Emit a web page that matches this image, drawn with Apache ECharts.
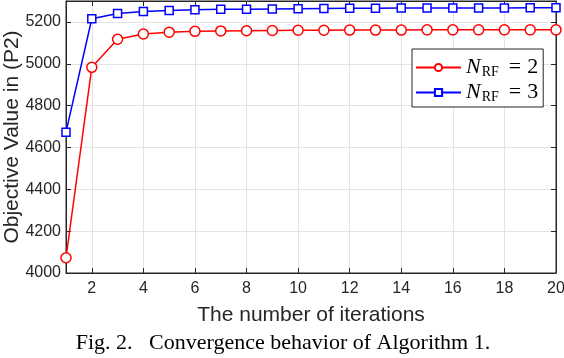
<!DOCTYPE html>
<html>
<head>
<meta charset="utf-8">
<script src="https://cdn.jsdelivr.net/npm/echarts@6/dist/echarts.min.js"></script>
<style>
  body { margin: 0; background: #fff; }
  #chart { width: 564px; height: 358px; }
</style>
</head>
<body>
<div id="chart"></div>
<script>
// iterations on the x axis
const iterations = [1, 2, 3, 4, 5, 6, 7, 8, 9, 10, 11, 12, 13, 14, 15, 16, 17, 18, 19, 20];
// objective value, N_RF = 2
const nrf2 = [4073, 4983, 5117, 5142, 5151, 5155, 5157, 5158, 5159, 5160, 5160, 5161, 5161, 5161, 5162, 5162, 5162, 5162, 5162, 5162];
// objective value, N_RF = 3
const nrf3 = [4673, 5215, 5240, 5250, 5255, 5258, 5260, 5261, 5262, 5263, 5264, 5265, 5265, 5266, 5266, 5267, 5267, 5267, 5268, 5268];
const seriesNames = ['2', '3'];

const axisColor = '#262626';
const gridColor = '#e3e3e3';
const font = 'Liberation Sans';

const chart = echarts.init(document.getElementById('chart'));

// only every second iteration gets a tick / label / grid line
const evenIdx = (i) => i % 2 === 1;

chart.setOption({
  animation: false,
  grid: {
    left: 66, right: 8, top: 1, bottom: 85,
    outerBoundsMode: 'none',
    show: true, borderColor: axisColor, borderWidth: 1
  },
  graphic: [
    {
      type: 'text', x: 283, y: 343,
      style: {
        text: 'Fig. 2.   Convergence behavior of Algorithm 1.',
        font: '22px "Liberation Serif"', fill: '#000',
        align: 'center', verticalAlign: 'middle'
      }
    }
  ],
  legend: {
    orient: 'vertical',
    left: 412, top: 49,
    padding: [7, 5, 3, 3],
    itemGap: 2,
    itemWidth: 45, itemHeight: 9,
    backgroundColor: '#fff',
    borderColor: axisColor, borderWidth: 1, borderRadius: 0,
    formatter: (name) => '{n|N}{s|RF}{e|=}{t|' + name + '}',
    textStyle: {
      rich: {
        n: { fontFamily: 'Liberation Serif', fontStyle: 'italic', fontSize: 22, color: '#000', lineHeight: 23 },
        s: { fontFamily: 'Liberation Serif', fontSize: 14, color: '#000', lineHeight: 23, padding: [9, 0, 0, 1] },
        e: { fontFamily: 'Liberation Serif', fontSize: 22, color: '#000', lineHeight: 23, padding: [0, 6, 0, 10] },
        t: { fontFamily: 'Liberation Serif', fontSize: 22, color: '#000', lineHeight: 23 }
      }
    },
    data: seriesNames
  },
  xAxis: [
    {
      type: 'category', data: iterations, boundaryGap: false,
      name: 'The number of iterations', nameLocation: 'middle', nameGap: 32,
      nameTextStyle: { fontFamily: font, fontSize: 21, color: axisColor },
      axisLine: { lineStyle: { color: axisColor } },
      axisTick: { inside: true, length: 5, interval: evenIdx, lineStyle: { color: axisColor } },
      axisLabel: { interval: evenIdx, fontFamily: font, fontSize: 16, color: axisColor, margin: 8 },
      splitLine: { show: true, interval: evenIdx, lineStyle: { color: gridColor } }
    },
    {
      type: 'category', data: iterations, boundaryGap: false, position: 'top',
      axisLine: { lineStyle: { color: axisColor } },
      axisTick: { inside: true, length: 5, interval: evenIdx, lineStyle: { color: axisColor } },
      axisLabel: { show: false }, splitLine: { show: false }
    }
  ],
  yAxis: [
    {
      type: 'value', min: 4000, max: 5300, interval: 200,
      name: 'Objective Value in (P2)', nameLocation: 'middle', nameGap: 43,
      nameMoveOverlap: false,
      nameTextStyle: { fontFamily: font, fontSize: 21, color: axisColor },
      axisLine: { show: true, lineStyle: { color: axisColor } },
      axisTick: { show: true, inside: true, length: 5, lineStyle: { color: axisColor } },
      axisLabel: {
        fontFamily: font, fontSize: 16, color: axisColor, margin: 5,
        showMaxLabel: false, formatter: (v) => String(v)
      },
      splitLine: { show: true, lineStyle: { color: gridColor } }
    },
    {
      type: 'value', min: 4000, max: 5300, interval: 200, position: 'right',
      axisLine: { show: true, lineStyle: { color: axisColor } },
      axisTick: { show: true, inside: true, length: 5, lineStyle: { color: axisColor } },
      axisLabel: { show: false }, splitLine: { show: false }
    }
  ],
  series: [
    {
      name: seriesNames[0], type: 'line', data: nrf2,
      symbol: 'circle', symbolSize: 10, showAllSymbol: true,
      color: '#ff0000',
      lineStyle: { width: 1.5, color: '#ff0000' },
      itemStyle: { color: '#fff', borderColor: '#ff0000', borderWidth: 1.5 }
    },
    {
      name: seriesNames[1], type: 'line', data: nrf3,
      symbol: 'rect', symbolSize: 8, showAllSymbol: true,
      color: '#0000ff',
      lineStyle: { width: 1.5, color: '#0000ff' },
      itemStyle: { color: '#fff', borderColor: '#0000ff', borderWidth: 1.5 }
    }
  ]
});
</script>
</body>
</html>
